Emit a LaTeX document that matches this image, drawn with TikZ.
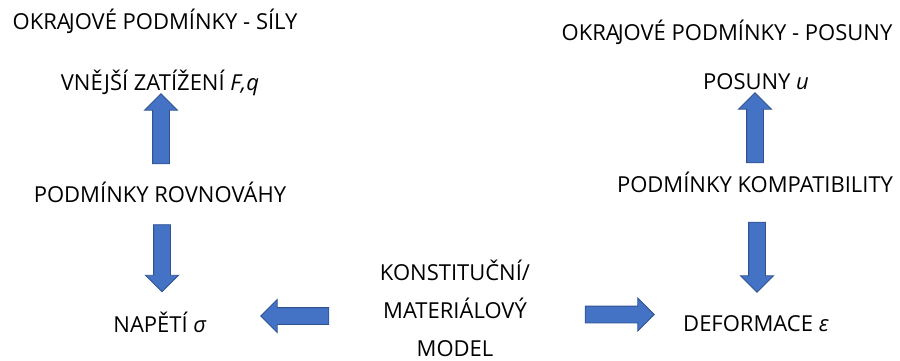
\documentclass[tikz,border=0pt]{standalone}
\usepackage{fontspec}
\setmainfont{Open Sans}
\usetikzlibrary{shapes.arrows}
\definecolor{arrowfill}{HTML}{4472C4}
\definecolor{arrowline}{HTML}{2F528F}

\begin{document}
\begin{tikzpicture}[x=1pt,y=-1pt,
  label/.style={font=\fontsize{22}{38}\selectfont,inner sep=0,anchor=base},
  blockarrow/.style={single arrow,fill=arrowfill,draw=arrowline,line width=0.9pt,
    inner xsep=0,inner ysep=8pt,single arrow head extend=8pt,
    single arrow head indent=0pt,minimum width=0pt}]
\useasboundingbox (0,0) rectangle (900,361);
\node [label] (okrajesily) at (155,30) {OKRA\kern-2pt JOVÉ PODMÍNKY - SÍLY};
\node [label] (zatizeni) at (160,91) {VNĚJŠÍ ZATÍŽENÍ \textit{F,q}};
\node [label] (rovnovaha) at (160,202) {PODMÍNKY ROVNOVÁHY};
\node [label] (napeti) at (160,332) {NAPĚTÍ \textit{σ}};
\node [label,align=center,anchor=center] (model) at (455,308) {KONSTITUČNÍ/\\MATERIÁLOVÝ\\MODEL};
\node [label] (okrajeposuny) at (727,41) {OKRA\kern-2pt JOVÉ PODMÍNKY - POSUNY};
\node [label] (posuny) at (756,90) {POSUNY \textit{u}};
\node [label] (kompatibilita) at (755,192) {PODMÍNKY KOMPATIBILITY};
\node [label] (deformace) at (756,331) {DEFORMACE \textit{ε}};
\node [blockarrow,minimum height=70,rotate=90] (arrzatizeni) at (161,133) {};
\node [blockarrow,minimum height=67,rotate=-90] (arrnapeti) at (162,254) {};
\node [blockarrow,minimum height=70,rotate=90] (arrposuny) at (755,132) {};
\node [blockarrow,minimum height=70,rotate=-90] (arrdeformace) at (757,253) {};
\node [blockarrow,minimum height=68,rotate=180] (arrlevo) at (299,316) {};
\node [blockarrow,minimum height=69] (arrpravo) at (615.5,314.5) {};
\end{tikzpicture}
\end{document}
